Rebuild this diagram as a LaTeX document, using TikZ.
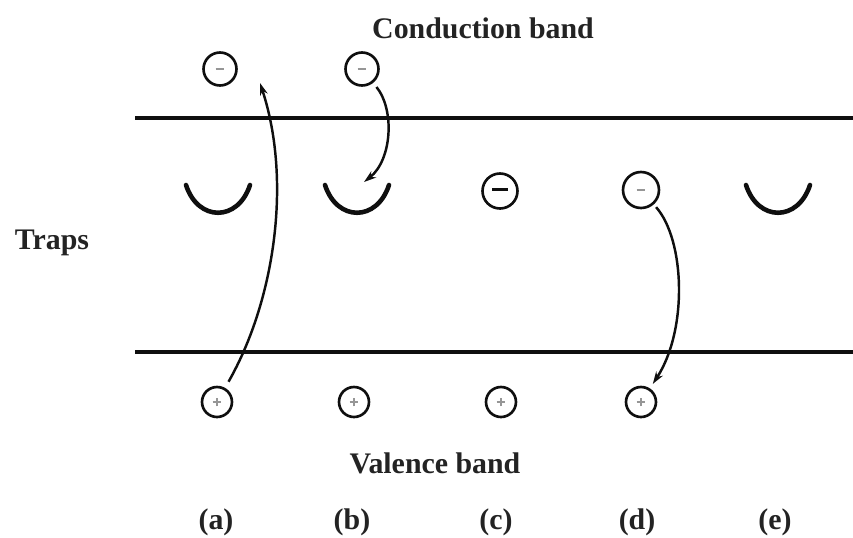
\documentclass[tikz,border=0pt]{standalone}
\usepackage{fontspec}
\setmainfont{Liberation Serif}
\usetikzlibrary{arrows.meta}
\definecolor{ink}{RGB}{15,15,15}
\definecolor{smudge}{RGB}{150,150,150}
\definecolor{textink}{RGB}{35,35,35}

\tikzset{
  bandlabel/.style={textink, font=\fontsize{17}{20}\selectfont\bfseries},
  electron/.style={circle, draw=ink, line width=1.5pt, minimum size=0.66cm, inner sep=0pt,
    path picture={\draw[smudge, line width=1.6pt]
      ([xshift=-2.5pt]path picture bounding box.center) -- ([xshift=2.5pt]path picture bounding box.center);}},
  trapped/.style={circle, draw=ink, line width=1.5pt, minimum size=0.7cm, inner sep=0pt,
    path picture={\draw[ink, line width=1.8pt]
      ([xshift=-4.5pt,yshift=1pt]path picture bounding box.center) -- ([xshift=4.5pt,yshift=1pt]path picture bounding box.center);}},
  hole/.style={circle, draw=ink, line width=1.5pt, minimum size=0.6cm, inner sep=0pt,
    path picture={\draw[smudge, line width=1.2pt]
      ([xshift=-2.5pt]path picture bounding box.center) -- ([xshift=2.5pt]path picture bounding box.center)
      ([yshift=-2.5pt]path picture bounding box.center) -- ([yshift=2.5pt]path picture bounding box.center);}},
  cup/.style={ink, line width=2.6pt, line cap=round},
  jump/.style={ink, line width=1.4pt, -{Stealth[length=7pt,width=4.5pt]}}
}

\begin{document}
\begin{tikzpicture}[x=0.02cm, y=-0.02cm]
  \useasboundingbox (0,0) rectangle (853,538);
  % Band edges
  \draw[ink, line width=2pt] (135,118) -- (853,118);
  \draw[ink, line width=2pt] (135,352) -- (853,352);
  % Band labels
  \node[bandlabel] (cb) at (483,28) {Conduction band};
  \node[bandlabel] (traplabel) at (52,243) {Traps};
  \node[bandlabel] (vb) at (435,463) {Valence band};
  % Case labels
  \foreach \x/\tag in {216/a, 352/b, 496/c, 637/d, 775/e}{
    \node[bandlabel] (lab-\tag) at (\x,522) {(\tag)};
  }
  % Electrons in the conduction band
  \node[electron] (ea) at (220,69) {};
  \node[electron] (eb) at (362,69) {};
  % Electrons sitting in traps
  \node[trapped] (ec) at (500,191) {};
  \node[electron, minimum size=0.72cm] (ed) at (641,190) {};
  % Holes in the valence band
  \foreach \x/\tag in {217/a, 354/b, 501/c, 641/d}{
    \node[hole] (h\tag) at (\x,402) {};
  }
  % Empty traps
  \foreach \x in {218, 357, 778}{
    \draw[cup] (\x-32,185) .. controls (\x-20,222) and (\x+20,222) .. (\x+32,185);
  }
  \coordinate (atop) at (260,83);
  \coordinate (tb) at (364,182);
  % Transitions
  \draw[jump, shorten <=4pt] (ha) .. controls (275,300) and (292,180) .. (atop);
  \draw[jump, shorten <=3pt] (eb) .. controls (395,110) and (392,160) .. (tb);
  \draw[jump, shorten <=2pt, shorten >=3pt] (ed) .. controls (685,240) and (688,330) .. (hd);
\end{tikzpicture}
\end{document}
